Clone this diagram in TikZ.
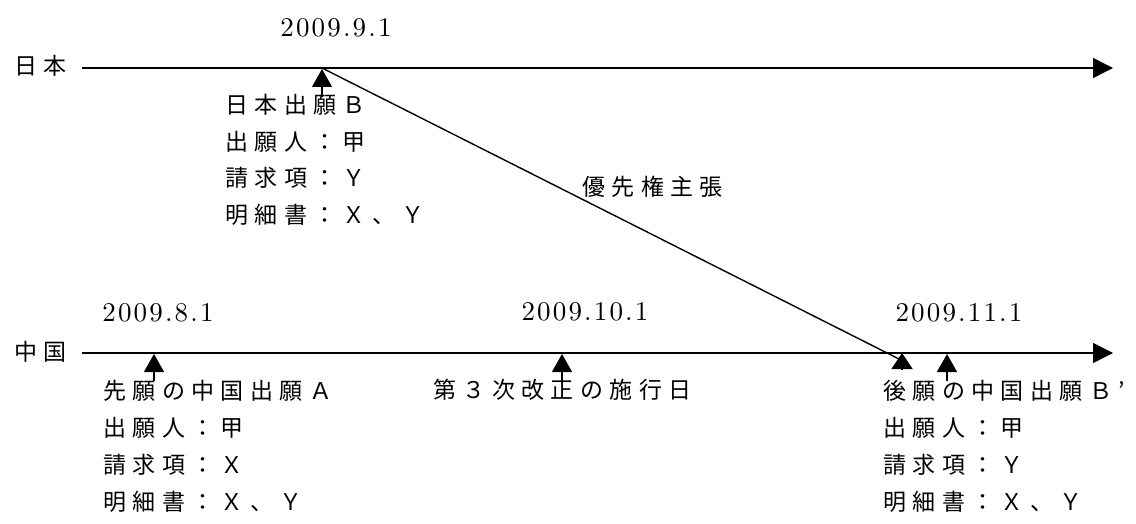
\documentclass[tikz,border=0pt]{standalone}
\usepackage{fontspec}
\newfontfamily\jp{Noto Sans CJK JP}[LetterSpace=28]
\newfontfamily\datefont{lmroman10-regular}[Extension=.otf, LetterSpace=8]
\usetikzlibrary{arrows.meta}
\tikzset{
  jtext/.style={font=\jp\fontsize{23}{23}\selectfont, anchor=west, inner sep=0pt},
  datetext/.style={font=\datefont\fontsize{27}{27}\selectfont, inner sep=0pt},
  timeline/.style={line width=1.5pt, -{Triangle[length=20pt,width=20pt]}},
  upmk/.style={line width=1.4pt, -{Triangle[length=18pt,width=20pt]}},
  prio/.style={line width=1.4pt, -{Triangle[length=16pt,width=21pt]}},
}
\begin{document}
\begin{tikzpicture}[x=1pt,y=-1pt]
\useasboundingbox (0,0) rectangle (1136,524);
\fill[white] (0,0) rectangle (1136,524);

% country labels
\node[jtext] (jp) at (14,66) {日本};
\node[jtext] (cn) at (14,352) {中国};

% time lines
\coordinate (jpS) at (82,68);
\coordinate (jpE) at (1113,68);
\coordinate (cnS) at (82,353);
\coordinate (cnE) at (1113,353);
\draw[timeline] (jpS) -- (jpE);
\draw[timeline] (cnS) -- (cnE);

% dates
\node[datetext] (d1) at (336,28) {2009.9.1};
\node[datetext] (d2) at (158,313) {2009.8.1};
\node[datetext] (d3) at (585,312) {2009.10.1};
\node[datetext] (d4) at (959,313) {2009.11.1};

% markers
\coordinate (mB) at (322,69);   \coordinate (mBs) at (322,97);
\coordinate (mA) at (154,354);  \coordinate (mAs) at (154,381);
\coordinate (mR) at (562,354);  \coordinate (mRs) at (562,381);
\coordinate (mC) at (947,354);  \coordinate (mCs) at (947,381);
\draw[upmk] (mBs) -- (mB);
\draw[upmk] (mAs) -- (mA);
\draw[upmk] (mRs) -- (mR);
\draw[upmk] (mCs) -- (mC);

% priority claim
\coordinate (pS) at (322,68);
\coordinate (pE) at (899,359);
\coordinate (pT) at (902,353);
\coordinate (pTb) at (902,369);
\draw[line width=1.4pt] (pS) -- (pE);
\draw[prio] (pTb) -- (pT);
\node[jtext] (prio) at (582,187) {優先権主張};

% Japanese application B
\node[jtext] (b1) at (225,105) {日本出願Ｂ};
\node[jtext] (b2) at (225,142) {出願人：甲};
\node[jtext] (b3) at (225,178) {請求項：Ｙ};
\node[jtext] (b4) at (225,215) {明細書：Ｘ、Ｙ};

% Chinese application A
\node[jtext] (a1) at (103,391) {先願の中国出願Ａ};
\node[jtext] (a2) at (103,428) {出願人：甲};
\node[jtext] (a3) at (103,465) {請求項：Ｘ};
\node[jtext] (a4) at (103,502) {明細書：Ｘ、Ｙ};

% revision date
\node[jtext] (rev) at (433,390) {第３次改正の施行日};

% Chinese application B'
\node[jtext] (c1) at (883,391) {後願の中国出願Ｂ’};
\node[jtext] (c2) at (883,428) {出願人：甲};
\node[jtext] (c3) at (883,465) {請求項：Ｙ};
\node[jtext] (c4) at (883,502) {明細書：Ｘ、Ｙ};
\end{tikzpicture}
\end{document}
